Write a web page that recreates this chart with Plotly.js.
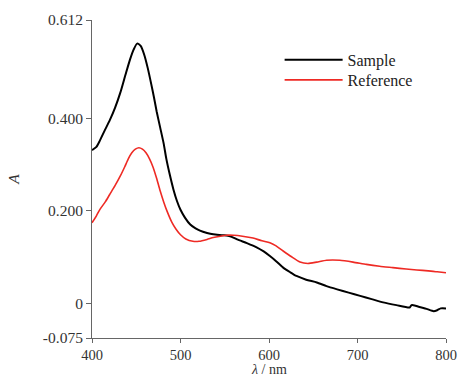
<!DOCTYPE html>
<html>
<head>
<meta charset="utf-8">
<script src="https://cdn.plot.ly/plotly-3.0.1.min.js"></script>
<style>html,body{margin:0;padding:0;background:#fff;}#chart{width:459px;height:378px;}</style>
</head>
<body>
<div id="chart"></div>
<script>
const sampleWavelength = [400, 405, 409, 414, 420, 426, 432, 438, 443, 447, 451, 455, 459, 463, 467, 470, 473, 477, 481, 484, 488, 492, 496, 500, 505, 511, 517, 522, 530, 537, 548, 556, 564, 575, 586, 594, 601, 608, 616, 624, 631, 642, 654, 665, 677, 690, 703, 716, 729, 744, 759, 761, 763, 770, 778, 786, 790, 794, 800];
const sampleA = [0.331, 0.338, 0.352, 0.372, 0.395, 0.422, 0.455, 0.495, 0.527, 0.548, 0.561, 0.556, 0.537, 0.508, 0.473, 0.445, 0.415, 0.380, 0.345, 0.312, 0.277, 0.246, 0.221, 0.202, 0.185, 0.170, 0.162, 0.157, 0.152, 0.149, 0.147, 0.145, 0.138, 0.130, 0.121, 0.112, 0.102, 0.091, 0.077, 0.067, 0.059, 0.051, 0.045, 0.037, 0.030, 0.023, 0.016, 0.009, 0.002, -0.004, -0.009, -0.004, -0.004, -0.008, -0.012, -0.017, -0.015, -0.011, -0.011];
const referenceWavelength = [400, 405, 409, 415, 420, 426, 432, 437, 441, 445, 449, 453, 457, 461, 465, 469, 473, 477, 481, 485, 490, 495, 500, 506, 514, 521, 530, 537, 545, 552, 560, 570, 582, 592, 601, 608, 616, 625, 635, 644, 654, 665, 680, 695, 710, 725, 740, 755, 767, 780, 790, 800];
const referenceA = [0.174, 0.189, 0.203, 0.219, 0.235, 0.254, 0.275, 0.295, 0.312, 0.325, 0.333, 0.336, 0.333, 0.325, 0.312, 0.294, 0.270, 0.243, 0.219, 0.198, 0.176, 0.160, 0.148, 0.139, 0.134, 0.134, 0.138, 0.142, 0.145, 0.147, 0.147, 0.145, 0.141, 0.135, 0.131, 0.124, 0.113, 0.101, 0.089, 0.086, 0.089, 0.093, 0.093, 0.089, 0.084, 0.080, 0.077, 0.074, 0.072, 0.070, 0.068, 0.066];
const seriesNames = ["Sample", "Reference"];
const yTickValues = [-0.075, 0, 0.2, 0.4, 0.612];
const yTickLabels = ["-0.075", "0", "0.200", "0.400", "0.612"];
const xTickValues = [400, 500, 600, 700, 800];
const xTitle = '<i>λ</i> / nm';
const yTitle = '<i>A</i>';

const fam = 'Liberation Serif, Times New Roman, serif';
const font = {family: fam, size: 15.5, color: '#333'};
const xTickFont = {family: fam, size: 14.5, color: '#333'};
const xTitleFont = {family: fam, size: 14, color: '#333'};
const legendFont = {family: fam, size: 16, color: '#222'};
const traces = [
  {x: sampleWavelength, y: sampleA, name: seriesNames[0], type: 'scatter', mode: 'lines', legend: 'legend',
   line: {color: '#000000', width: 2, shape: 'spline', smoothing: 0.6}},
  {x: referenceWavelength, y: referenceA, name: seriesNames[1], type: 'scatter', mode: 'lines', legend: 'legend2',
   line: {color: '#ee2a24', width: 1.6, shape: 'spline', smoothing: 0.6}}
];
const layout = {
  width: 459, height: 378,
  margin: {l: 92, r: 13, t: 20, b: 40},
  paper_bgcolor: '#ffffff', plot_bgcolor: '#ffffff',
  font: font,
  showlegend: true,
  legend: {x: 0.53, y: 0.928, xanchor: 'left', yanchor: 'top', bgcolor: 'rgba(0,0,0,0)',
           font: legendFont, itemwidth: 58},
  legend2: {x: 0.53, y: 0.865, xanchor: 'left', yanchor: 'top', bgcolor: 'rgba(0,0,0,0)',
           font: legendFont, itemwidth: 58},
  xaxis: {range: [400, 800], tickvals: xTickValues, ticktext: xTickValues.map(String),
          showgrid: false, zeroline: false, showline: true, linecolor: '#666', linewidth: 1,
          ticks: 'outside', ticklen: 4, tickcolor: '#666', tickfont: xTickFont},
  yaxis: {range: [-0.075, 0.612], tickvals: yTickValues, ticktext: yTickLabels,
          showgrid: false, zeroline: false, showline: true, linecolor: '#666', linewidth: 1,
          ticks: 'outside', ticklen: 5, tickcolor: '#666', tickfont: font,
          title: {text: yTitle, font: font, standoff: 19}},
  annotations: [
    {text: xTitle, xref: 'paper', yref: 'paper', x: 0.5, y: -0.1006, xanchor: 'center', yanchor: 'middle',
     showarrow: false, borderpad: 0, font: xTitleFont}
  ]
};
Plotly.newPlot('chart', traces, layout, {staticPlot: true, displayModeBar: false});
</script>
</body>
</html>
